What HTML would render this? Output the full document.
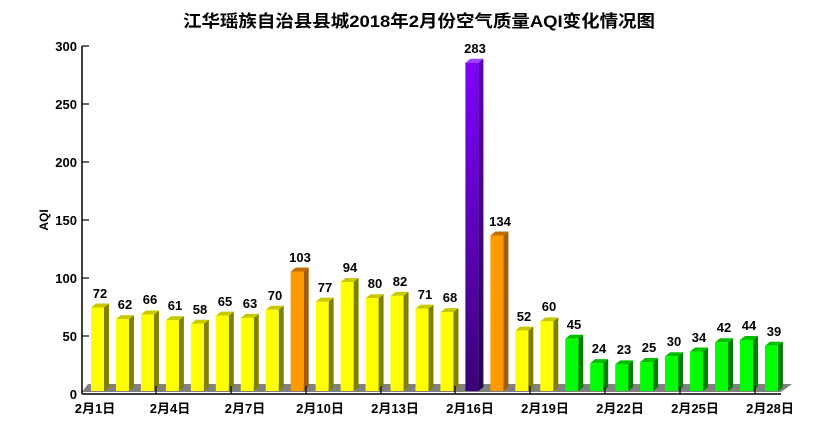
<!DOCTYPE html>
<html><head><meta charset="utf-8"><style>
html,body{margin:0;padding:0;background:#fff;width:836px;height:431px;overflow:hidden}
svg{display:block;font-family:"Liberation Sans","Noto Sans CJK SC",sans-serif}
</style></head><body>
<svg id="s" width="836" height="431" viewBox="0 0 836 431" xmlns="http://www.w3.org/2000/svg">
<defs>
<linearGradient id="pg" x1="0" y1="0" x2="0" y2="1"><stop offset="0" stop-color="#8000ff"/><stop offset="1" stop-color="#3a0078"/></linearGradient>
<linearGradient id="pgs" x1="0" y1="0" x2="0" y2="1"><stop offset="0" stop-color="#5a00b0"/><stop offset="1" stop-color="#25004c"/></linearGradient>
</defs>
<text x="183" y="27" font-size="17" font-weight="bold" fill="#000" textLength="472" lengthAdjust="spacingAndGlyphs">江华瑶族自治县县城2018年2月份空气质量AQI变化情况图</text>
<polygon points="82,392 781,392 792,384 88,384" fill="#808080"/>
<g id="bars"></g>
<line x1="82" y1="46" x2="82" y2="394" stroke="#000" stroke-width="1.5"/>
<line x1="82" y1="394" x2="781" y2="394" stroke="#000" stroke-width="1.5"/>
<g stroke="#000" stroke-width="1.2">
<line x1="82" y1="46" x2="89" y2="46"/><line x1="82" y1="104" x2="89" y2="104"/><line x1="82" y1="162" x2="89" y2="162"/><line x1="82" y1="220" x2="89" y2="220"/><line x1="82" y1="278" x2="89" y2="278"/><line x1="82" y1="336" x2="89" y2="336"/>
<line x1="156" y1="386" x2="156" y2="394"/><line x1="231" y1="386" x2="231" y2="394"/><line x1="306" y1="386" x2="306" y2="394"/><line x1="381" y1="386" x2="381" y2="394"/><line x1="455" y1="386" x2="455" y2="394"/><line x1="530" y1="386" x2="530" y2="394"/><line x1="605" y1="386" x2="605" y2="394"/><line x1="680" y1="386" x2="680" y2="394"/><line x1="755" y1="386" x2="755" y2="394"/>
</g>
<g font-size="13" font-weight="bold" text-anchor="end" fill="#000">
<text x="77" y="51">300</text><text x="77" y="109">250</text><text x="77" y="167">200</text><text x="77" y="225">150</text><text x="77" y="283">100</text><text x="77" y="341">50</text><text x="77" y="399">0</text>
</g>
<text x="48" y="220" font-size="12" font-weight="bold" text-anchor="middle" transform="rotate(-90 48 220)">AQI</text>
<g font-size="13" font-weight="bold" text-anchor="middle" fill="#000">
<text x="95" y="413">2月1日</text><text x="170" y="413">2月4日</text><text x="245" y="413">2月7日</text><text x="320" y="413">2月10日</text><text x="395" y="413">2月13日</text><text x="470" y="413">2月16日</text><text x="545" y="413">2月19日</text><text x="620" y="413">2月22日</text><text x="695" y="413">2月25日</text><text x="770" y="413">2月28日</text>
</g>
<g font-size="13" font-weight="bold" text-anchor="middle" fill="#000">
<text x="100" y="298">72</text><text x="125" y="309">62</text><text x="150" y="304">66</text><text x="175" y="310">61</text><text x="200" y="314">58</text><text x="225" y="306">65</text><text x="250" y="308">63</text><text x="275" y="300">70</text><text x="300" y="262">103</text><text x="325" y="292">77</text><text x="350" y="272">94</text><text x="375" y="288">80</text><text x="400" y="286">82</text><text x="425" y="299">71</text><text x="450" y="302">68</text><text x="475" y="53">283</text><text x="500" y="226">134</text><text x="524" y="321">52</text><text x="549" y="311">60</text><text x="574" y="329">45</text><text x="599" y="353">24</text><text x="624" y="354">23</text><text x="649" y="352">25</text><text x="674" y="346">30</text><text x="699" y="342">34</text><text x="724" y="332">42</text><text x="749" y="330">44</text><text x="774" y="336">39</text>
</g>
</svg>
<script>
var v=[72,62,66,61,58,65,63,70,103,77,94,80,82,71,68,283,134,52,60,45,24,23,25,30,34,42,44,39];
var g=document.getElementById('bars'),h='';
for(var i=0;i<v.length;i++){
 var x=91+i*24.96,w=13,t=391-v[i]*1.16,b=391,dx=5,dy=4,f,s,tp;
 if(v[i]>200){f='url(#pg)';s='url(#pgs)';tp='#a040ff';}
 else if(v[i]>100){f='#ff9900';s='#a05c00';tp='#c07000';}
 else if(v[i]>50){f='#ffff00';s='#808000';tp='#c8c800';}
 else {f='#00ff00';s='#008000';tp='#00c000';}
 h+='<polygon points="'+(x+w)+','+t+' '+(x+w+dx)+','+(t-dy)+' '+(x+w+dx)+','+(b-dy)+' '+(x+w)+','+b+'" fill="'+s+'"/>';
 h+='<polygon points="'+x+','+t+' '+(x+dx)+','+(t-dy)+' '+(x+w+dx)+','+(t-dy)+' '+(x+w)+','+t+'" fill="'+tp+'"/>';
 h+='<rect x="'+x+'" y="'+t+'" width="'+w+'" height="'+(b-t)+'" fill="'+f+'"/>';
}
g.innerHTML=h;
</script>
</body></html>
